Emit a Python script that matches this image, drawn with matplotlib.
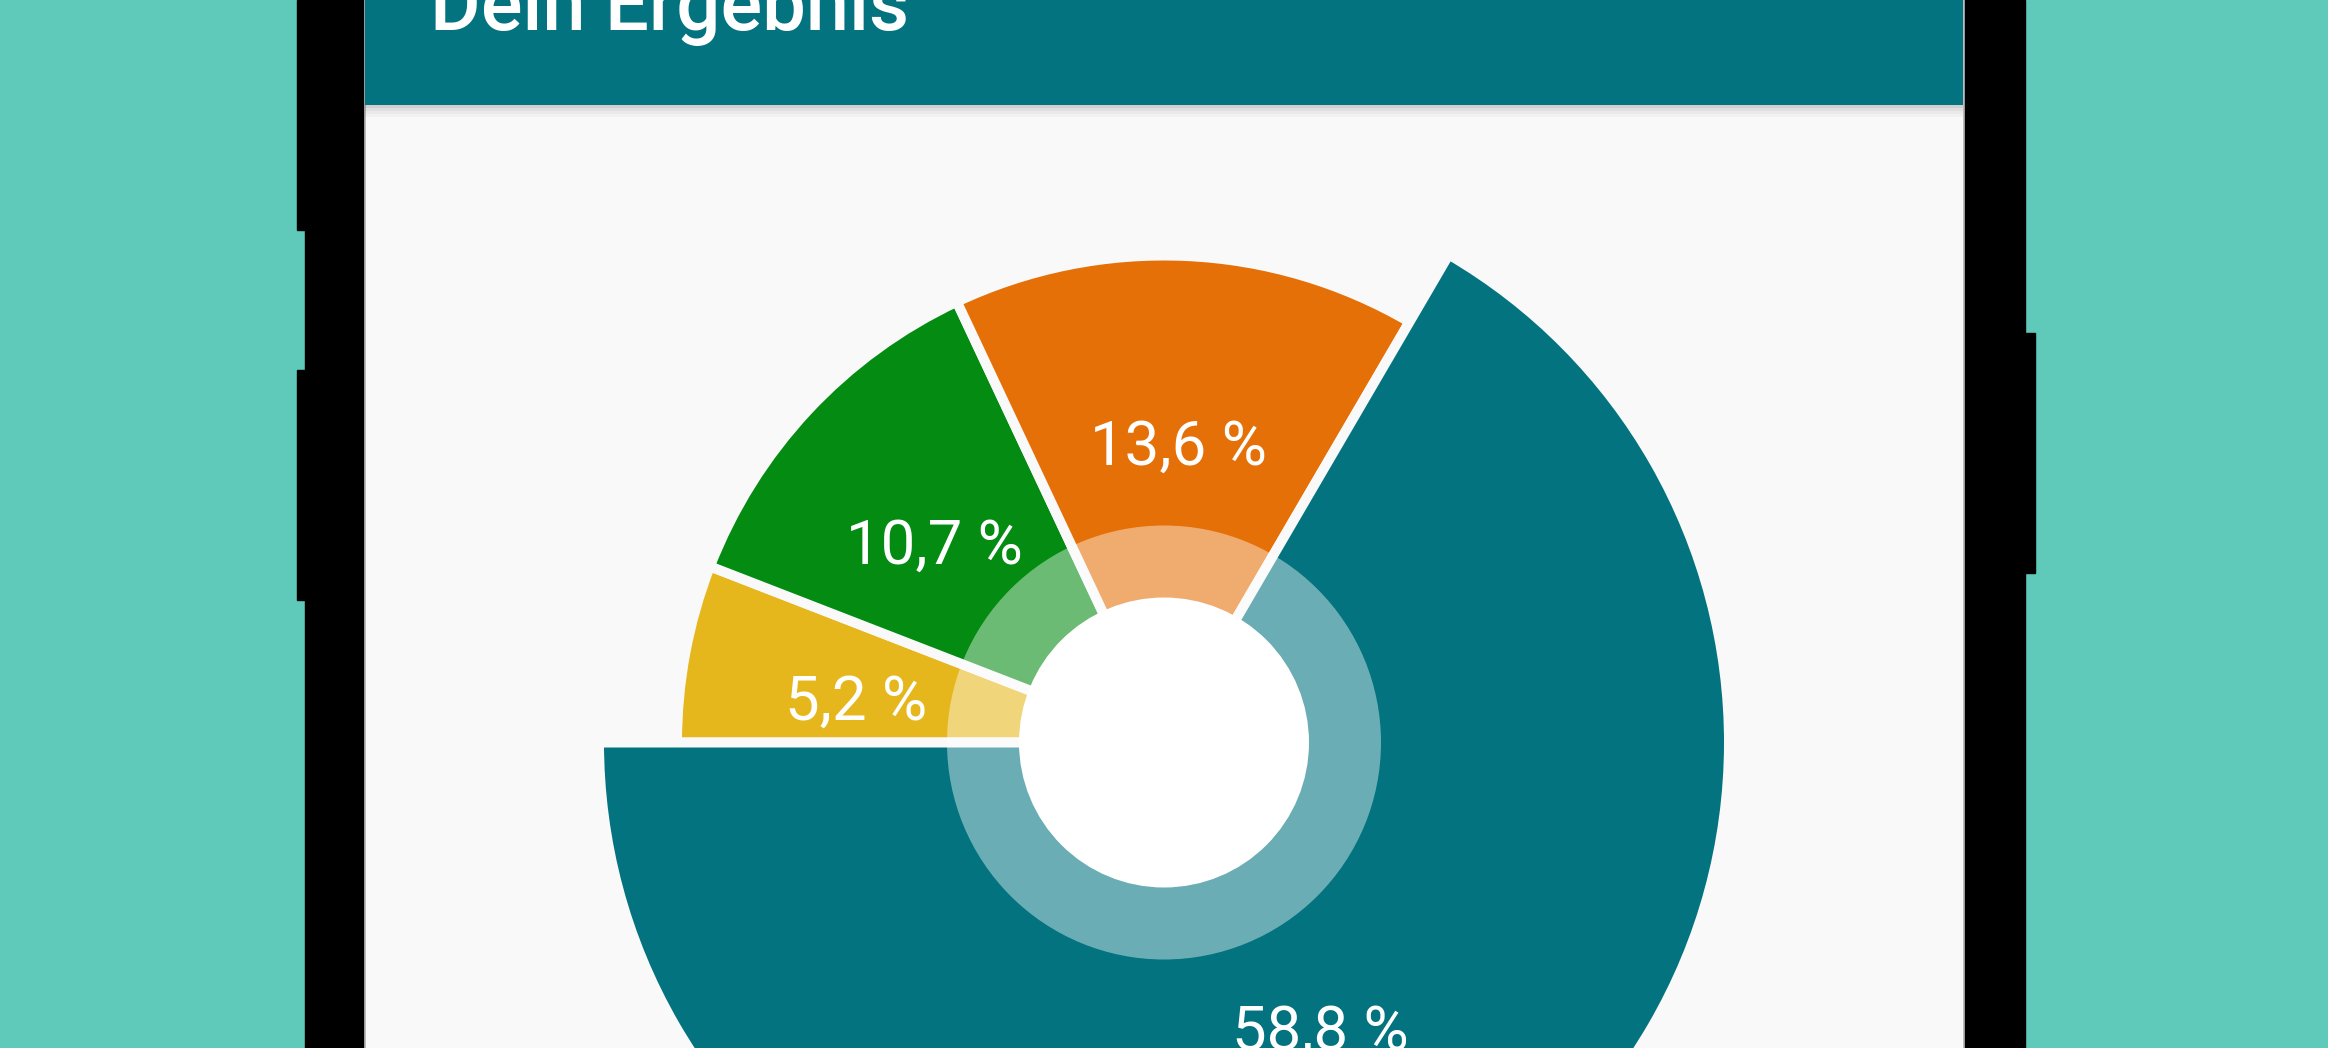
#!/usr/bin/env python3
"""Ergebnis-Screen: Donut-Diagramm in einem Handy-Rahmen, nachgebaut mit matplotlib."""
import numpy as np
import matplotlib.pyplot as plt
from matplotlib.patches import Rectangle, Circle

# --- Daten ---
werte = [5.2, 10.7, 13.6, 58.8]
beschriftung = ["5,2 %", "10,7 %", "13,6 %", "58,8 %"]
farben = ["#e6b71d", "#038b12", "#e67008", "#02737f"]
markiert = 3          # hervorgehobenes Segment (groesserer Radius)
titel = "Dein Ergebnis"

# --- Stil / Geometrie (Pixel, y von oben) ---
W, H = 2328, 1048
HG_TEAL = "#5fc9ba"
APPBAR = "#02737f"
INHALT = "#f9f9f9"
cx, cy = 1164, 742.5
R = 482              # Radius der normalen Segmente
SHIFT = 78           # Zusatzradius des markierten Segments
LOCH = 145           # weisses Loch
RING = 217           # halbtransparenter Ring
SPALT = 10           # Abstand zwischen Segmenten


def yb(y):
    # Bildschirm-y (von oben) -> Achsen-y (von unten)
    return H - y


fig = plt.figure(figsize=(W / 100, H / 100), dpi=100)
ax = fig.add_axes([0, 0, 1, 1])
fig.patch.set_facecolor(HG_TEAL)

# Handy-Rahmen (schwarz) mit Tasten
ax.add_patch(Rectangle((305, 0), 1720, H, color="black", zorder=1))
for y0, y1 in [(0, 230), (370, 600)]:
    ax.add_patch(Rectangle((297, yb(y1)), 20, y1 - y0, color="black", zorder=1))
ax.add_patch(Rectangle((2010, yb(573)), 25, 240, color="black", zorder=1))

# Bildschirm
ax.add_patch(Rectangle((365, 0), 1598, H, color=INHALT, zorder=2))
ax.plot([364.5, 364.5], [0, H], color="#b0b0b0", lw=1.2, zorder=2)
ax.plot([1963.5, 1963.5], [0, H], color="#b0b0b0", lw=1.2, zorder=2)

# App-Leiste mit Schatten
for i, a in enumerate([0.16, 0.10, 0.06, 0.03]):
    ax.add_patch(Rectangle((365, yb(105 + 3 * (i + 1))), 1598, 3, color="black",
                           alpha=a, lw=0, zorder=3))
ax.add_patch(Rectangle((365, yb(105)), 1598, 105, color=APPBAR, lw=0, zorder=4))
ax.text(430, yb(30), titel, color="white", fontsize=56, fontfamily="Roboto",
        fontweight="medium", ha="left", va="baseline", zorder=5)

# Donut
wedges, _ = ax.pie(werte, colors=farben, startangle=180, counterclock=False,
                   radius=R + SPALT / 2, center=(cx, yb(cy)),
                   wedgeprops=dict(edgecolor=INHALT, linewidth=SPALT * 0.72, zorder=6))
wedges[markiert].set_radius(R + SHIFT + SPALT / 2)

ax.add_patch(Circle((cx, yb(cy)), RING, color="white", alpha=0.42, lw=0, zorder=7))
ax.add_patch(Circle((cx, yb(cy)), LOCH, color="white", lw=0, zorder=8))

# Prozentwerte in der Mitte zwischen Loch und Aussenrand
r_lab = (R + LOCH) / 2
for w, txt in zip(wedges, beschriftung):
    mitte = np.deg2rad((w.theta1 + w.theta2) / 2)
    x = cx + r_lab * np.cos(mitte)
    y = yb(cy) + r_lab * np.sin(mitte)
    ax.text(x, y - 35, txt, color="white", fontsize=44.5, fontfamily="Roboto",
            ha="center", va="baseline", zorder=9)

ax.set_xlim(0, W)
ax.set_ylim(0, H)
ax.set_aspect("equal")
ax.axis("off")

fig.savefig("out.png", dpi=100, facecolor=HG_TEAL)
